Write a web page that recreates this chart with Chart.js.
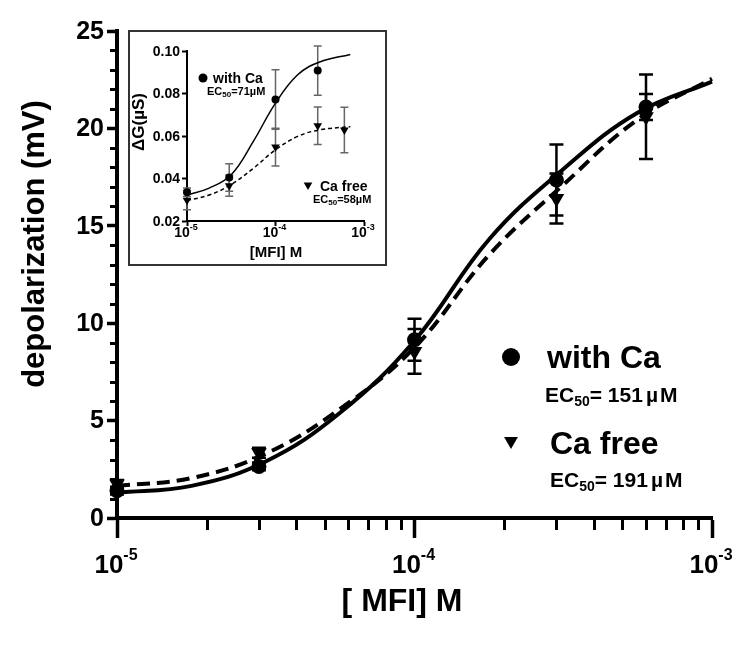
<!DOCTYPE html>
<html><head><meta charset="utf-8">
<script src="https://cdn.jsdelivr.net/npm/chart.js@4.4.1/dist/chart.umd.min.js"></script>
<style>
html,body{margin:0;padding:0;background:#fff;}
#wrap{position:relative;width:750px;height:657px;overflow:hidden;}
#main{position:absolute;left:0;top:0;}
#insetBox{position:absolute;left:128px;top:30px;width:255px;height:232px;border:2px solid #333;background:#fff;}
#inset{display:block;}
</style></head><body>
<div id="wrap">
<canvas id="main" width="750" height="657"></canvas>
<div id="insetBox"><canvas id="inset" width="255" height="232"></canvas></div>
</div>
<script>
// ---------- main panel data ----------
const concentrations = [1e-5, 3e-5, 1e-4, 3e-4, 6e-4];
const withCaMean = [1.4, 2.65, 9.15, 17.35, 21.1];
const withCaErr  = [0.2, 0.2, 1.08, 1.82, 0.67];
const caFreeMean = [1.75, 3.35, 8.55, 16.4, 20.6];
const caFreeErr  = [0.2, 0.26, 1.15, 1.28, 2.17];

// fitted curves, every quarter decade
const fitX       = [1e-5, 1.78e-5, 3.16e-5, 5.62e-5, 1e-4, 1.78e-4, 3.16e-4, 5.62e-4, 1e-3];
const fitWithCa  = [1.3, 1.65, 2.9, 5.4, 9.1, 14.3, 17.9, 20.8, 22.4];
const fitCaFree  = [1.65, 2.05, 3.3, 5.6, 8.75, 13.5, 17.1, 20.45, 22.55];

const yMajorTicks = [0, 5, 10, 15, 20, 25];
const xMajorTicks = [1e-5, 1e-4, 1e-3];
const xTickExponents = ['-5', '-4', '-3'];

// ---------- inset data ----------
const insetConcWithCa = [1e-5, 3e-5, 1e-4, 3e-4];
const insetWithCaMean = [0.0335, 0.0405, 0.0772, 0.0908];
const insetWithCaErr  = [0.002, 0.0065, 0.014, 0.0116];
const insetConcCaFree = [1e-5, 3e-5, 1e-4, 3e-4, 6e-4];
const insetCaFreeMean = [0.0298, 0.0366, 0.0548, 0.0648, 0.0628];
const insetCaFreeErr  = [0.0045, 0.005, 0.0089, 0.0088, 0.0107];

const insetFitX = [1e-5, 1.78e-5, 3.16e-5, 5.62e-5, 1e-4, 1.78e-4, 3.16e-4, 7e-4];
const insetFitWithCa = [0.0322, 0.0355, 0.0418, 0.0575, 0.0755, 0.0888, 0.0948, 0.0984];
const insetFitCaFree = [0.0297, 0.0322, 0.0372, 0.0448, 0.0535, 0.0598, 0.0629, 0.0644];

const insetYTicks = [0.02, 0.04, 0.06, 0.08, 0.10];

const FONT = "'Liberation Sans', Arial, Helvetica, sans-serif";
const pts = (xs, ys) => xs.map((x, i) => ({x, y: ys[i]}));

function drawRich(ctx, parts, x, y, align) {
  let total = 0;
  parts.forEach(p => { ctx.font = `bold ${p.size}px ${FONT}`; p.w = ctx.measureText(p.t).width; total += p.w + (p.gap || 0); });
  let cx = align === 'center' ? x - total / 2 : (align === 'right' ? x - total : x);
  ctx.textAlign = 'left';
  ctx.textBaseline = 'alphabetic';
  parts.forEach(p => {
    ctx.font = `bold ${p.size}px ${FONT}`;
    ctx.fillText(p.t, cx, y + (p.dy || 0));
    cx += p.w + (p.gap || 0);
  });
}

function drawErrorBars(chart, xs, means, errs, lw, cap, color) {
  const ctx = chart.ctx, xs_ = chart.scales.x, ys_ = chart.scales.y;
  ctx.save();
  ctx.strokeStyle = color; ctx.lineWidth = lw;
  xs.forEach((c, i) => {
    const px = xs_.getPixelForValue(c);
    const top = ys_.getPixelForValue(means[i] + errs[i]);
    const bot = ys_.getPixelForValue(means[i] - errs[i]);
    ctx.beginPath();
    ctx.moveTo(px, top); ctx.lineTo(px, bot);
    ctx.moveTo(px - cap, top); ctx.lineTo(px + cap, top);
    ctx.moveTo(px - cap, bot); ctx.lineTo(px + cap, bot);
    ctx.stroke();
  });
  ctx.restore();
}

function triangleDown(ctx, x, y, r) {
  ctx.beginPath();
  ctx.moveTo(x - r * 0.866, y - r * 0.5);
  ctx.lineTo(x + r * 0.866, y - r * 0.5);
  ctx.lineTo(x, y + r);
  ctx.closePath();
  ctx.fill();
}

// ---------- main chart ----------
const mainDecor = {
  id: 'mainDecor',
  beforeDatasetsDraw(chart) {
    drawErrorBars(chart, concentrations, withCaMean, withCaErr, 2.5, 7, '#000');
    drawErrorBars(chart, concentrations, caFreeMean, caFreeErr, 2.5, 7, '#000');
  },
  afterDraw(chart) {
    const ctx = chart.ctx, xs = chart.scales.x, ys = chart.scales.y;
    const area = chart.chartArea;
    ctx.save();
    ctx.fillStyle = '#000'; ctx.strokeStyle = '#000';
    ctx.lineWidth = 3;
    for (let v = 1; v < 25; v++) {
      if (v % 5 === 0) continue;
      const py = Math.round(ys.getPixelForValue(v)) + 0.5;
      ctx.beginPath(); ctx.moveTo(area.left - 7, py); ctx.lineTo(area.left, py); ctx.stroke();
    }
    [1e-5, 1e-4].forEach(dec => {
      for (let k = 2; k <= 9; k++) {
        const px = Math.round(xs.getPixelForValue(k * dec)) + 0.5;
        ctx.beginPath(); ctx.moveTo(px, area.bottom); ctx.lineTo(px, area.bottom + 12); ctx.stroke();
      }
    });
    ctx.font = `bold 25px ${FONT}`;
    ctx.textAlign = 'right'; ctx.textBaseline = 'middle';
    yMajorTicks.forEach(v => ctx.fillText(String(v), area.left - 13, ys.getPixelForValue(v) + 1));
    xMajorTicks.forEach((v, i) => {
      drawRich(ctx, [{t: '10', size: 26}, {t: xTickExponents[i], size: 16, dy: -13}], xs.getPixelForValue(v) - 1, 573, 'center');
    });
    ctx.save();
    ctx.translate(35, 244); ctx.rotate(-Math.PI / 2);
    ctx.font = `bold 31px ${FONT}`; ctx.textAlign = 'center'; ctx.textBaseline = 'middle';
    ctx.fillText('depolarization (mV)', 0, 0);
    ctx.restore();
    ctx.font = `bold 32px ${FONT}`; ctx.textAlign = 'center'; ctx.textBaseline = 'alphabetic';
    ctx.fillText('[ MFI] M', 402, 611);
    ctx.beginPath(); ctx.arc(511, 357, 9, 0, Math.PI * 2); ctx.fill();
    drawRich(ctx, [{t: 'with Ca', size: 32}], 547, 368, 'left');
    drawRich(ctx, [{t: 'EC', size: 21}, {t: '50', size: 14, dy: 4}, {t: '= 151', size: 21, gap: 3}, {t: '\u00b5', size: 21, gap: 2}, {t: 'M', size: 21}], 545, 402, 'left');
    triangleDown(ctx, 511, 441, 8);
    drawRich(ctx, [{t: 'Ca free', size: 32}], 550, 454, 'left');
    drawRich(ctx, [{t: 'EC', size: 21}, {t: '50', size: 14, dy: 4}, {t: '= 191', size: 21, gap: 3}, {t: '\u00b5', size: 21, gap: 2}, {t: 'M', size: 21}], 550, 487, 'left');
    ctx.restore();
  }
};

new Chart(document.getElementById('main'), {
  type: 'line',
  data: {
    datasets: [
      {label: 'with Ca fit', data: pts(fitX, fitWithCa), borderColor: '#000', borderWidth: 4, pointRadius: 0, tension: 0.4, fill: false, clip: false},
      {label: 'Ca free fit', data: pts(fitX, fitCaFree), borderColor: '#000', borderWidth: 4, borderDash: [13, 7], pointRadius: 0, tension: 0.4, fill: false, clip: false},
      {label: 'with Ca', data: pts(concentrations, withCaMean), showLine: false, pointStyle: 'circle', pointRadius: 7.5, pointBackgroundColor: '#000', pointBorderColor: '#000', pointBorderWidth: 0, clip: false},
      {label: 'Ca free', data: pts(concentrations, caFreeMean), showLine: false, pointStyle: 'triangle', rotation: 180, pointRadius: 9, pointBackgroundColor: '#000', pointBorderColor: '#000', pointBorderWidth: 0, clip: false}
    ]
  },
  options: {
    responsive: false, animation: false, devicePixelRatio: 1,
    layout: {padding: {left: 107, right: 38, top: 31, bottom: 119}},
    plugins: {legend: {display: false}, tooltip: {enabled: false}},
    scales: {
      x: {
        type: 'logarithmic', min: 1e-5, max: 1e-3,
        afterBuildTicks: s => { s.ticks = xMajorTicks.map(v => ({value: v, major: true})); },
        ticks: {display: false},
        grid: {display: true, drawOnChartArea: false, drawTicks: true, tickLength: 20, tickWidth: 3.5, tickColor: '#000'},
        border: {display: true, color: '#000', width: 4}
      },
      y: {
        type: 'linear', min: 0, max: 25,
        afterBuildTicks: s => { s.ticks = yMajorTicks.map(v => ({value: v})); },
        ticks: {display: false},
        grid: {display: true, drawOnChartArea: false, drawTicks: true, tickLength: 10, tickWidth: 3.5, tickColor: '#000'},
        border: {display: true, color: '#000', width: 4}
      }
    }
  },
  plugins: [mainDecor]
});

// ---------- inset chart ----------
const insetDecor = {
  id: 'insetDecor',
  beforeDatasetsDraw(chart) {
    drawErrorBars(chart, insetConcWithCa, insetWithCaMean, insetWithCaErr, 1.5, 4, '#666');
    drawErrorBars(chart, insetConcCaFree, insetCaFreeMean, insetCaFreeErr, 1.5, 4, '#666');
  },
  afterDraw(chart) {
    const ctx = chart.ctx, xs = chart.scales.x, ys = chart.scales.y;
    const area = chart.chartArea;
    ctx.save();
    ctx.fillStyle = '#000';
    ctx.font = `bold 14px ${FONT}`; ctx.textAlign = 'right'; ctx.textBaseline = 'middle';
    insetYTicks.forEach(v => ctx.fillText(v.toFixed(2), area.left - 7, ys.getPixelForValue(v) + 1));
    xMajorTicks.forEach((v, i) => {
      drawRich(ctx, [{t: '10', size: 14}, {t: xTickExponents[i], size: 9, dy: -7}], xs.getPixelForValue(v) - 1, 205, 'center');
    });
    ctx.font = `bold 15px ${FONT}`; ctx.textAlign = 'center'; ctx.textBaseline = 'alphabetic';
    ctx.fillText('[MFI] M', 146, 225);
    ctx.save();
    ctx.translate(9, 90); ctx.rotate(-Math.PI / 2);
    ctx.font = `bold 17px ${FONT}`; ctx.textAlign = 'center'; ctx.textBaseline = 'middle';
    ctx.fillText('\u0394G(\u00b5S)', 0, 0);
    ctx.restore();
    ctx.beginPath(); ctx.arc(73, 46, 4.5, 0, Math.PI * 2); ctx.fill();
    drawRich(ctx, [{t: 'with Ca', size: 14}], 83, 51, 'left');
    drawRich(ctx, [{t: 'EC', size: 11}, {t: '50', size: 8, dy: 2}, {t: '=71\u00b5M', size: 11}], 77, 63, 'left');
    triangleDown(ctx, 178, 153, 5);
    drawRich(ctx, [{t: 'Ca free', size: 14}], 190, 159, 'left');
    drawRich(ctx, [{t: 'EC', size: 11}, {t: '50', size: 8, dy: 2}, {t: '=58\u00b5M', size: 11}], 183, 171, 'left');
    ctx.restore();
  }
};

new Chart(document.getElementById('inset'), {
  type: 'line',
  data: {
    datasets: [
      {label: 'with Ca fit', data: pts(insetFitX, insetFitWithCa), borderColor: '#000', borderWidth: 1.5, pointRadius: 0, tension: 0.4, fill: false, clip: false},
      {label: 'Ca free fit', data: pts(insetFitX, insetFitCaFree), borderColor: '#000', borderWidth: 1.5, borderDash: [4, 3], pointRadius: 0, tension: 0.4, fill: false, clip: false},
      {label: 'with Ca', data: pts(insetConcWithCa, insetWithCaMean), showLine: false, pointStyle: 'circle', pointRadius: 4, pointBackgroundColor: '#000', pointBorderWidth: 0, clip: false},
      {label: 'Ca free', data: pts(insetConcCaFree, insetCaFreeMean), showLine: false, pointStyle: 'triangle', rotation: 180, pointRadius: 5, pointBackgroundColor: '#000', pointBorderWidth: 0, clip: false}
    ]
  },
  options: {
    responsive: false, animation: false, devicePixelRatio: 1,
    layout: {padding: {left: 52, right: 21, top: 19, bottom: 38}},
    plugins: {legend: {display: false}, tooltip: {enabled: false}},
    scales: {
      x: {
        type: 'logarithmic', min: 1e-5, max: 1e-3,
        afterBuildTicks: s => { s.ticks = xMajorTicks.map(v => ({value: v, major: true})); },
        ticks: {display: false},
        grid: {display: true, drawOnChartArea: false, drawTicks: true, tickLength: 5, tickWidth: 2, tickColor: '#000'},
        border: {display: true, color: '#000', width: 2}
      },
      y: {
        type: 'linear', min: 0.02, max: 0.10,
        afterBuildTicks: s => { s.ticks = insetYTicks.map(v => ({value: v})); },
        ticks: {display: false},
        grid: {display: true, drawOnChartArea: false, drawTicks: true, tickLength: 5, tickWidth: 2, tickColor: '#000'},
        border: {display: true, color: '#000', width: 2}
      }
    }
  },
  plugins: [insetDecor]
});
</script>
</body></html>
